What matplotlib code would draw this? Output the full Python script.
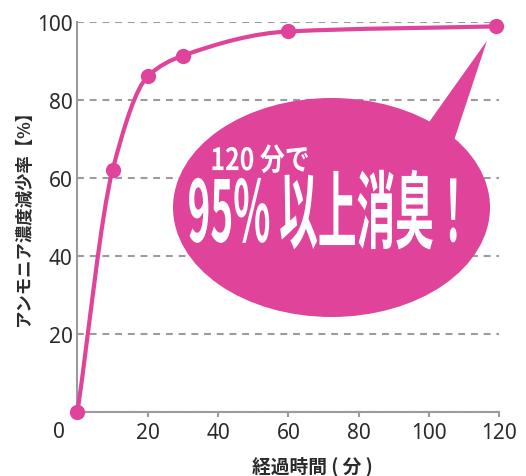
import numpy as np
import matplotlib
matplotlib.use("Agg")
import matplotlib.pyplot as plt
from matplotlib.path import Path
from matplotlib.patches import PathPatch, Ellipse, Polygon
from matplotlib import patheffects
from matplotlib.transforms import Affine2D

# ---- data ----
time_min = [0, 10, 20, 30, 60, 119]
reduction_pct = [0, 62, 86, 91.3, 97.5, 98.8]
x_ticks = [0, 20, 40, 60, 80, 100, 120]
y_ticks = [0, 20, 40, 60, 80, 100]
x_label = "経過時間 ( 分 )"
y_label = "アンモニア濃度減少率【%】"
bubble_small = "120 分で"
bubble_big = "95% 以上消臭！"

PINK = "#E0449A"
GRAY = "#9c9ca0"
TXT = "#2b2b2b"
CJK = ["Noto Sans CJK JP", "DejaVu Sans"]
NUM = ["Noto Sans", "DejaVu Sans"]

W, H = 526, 477
fig = plt.figure(figsize=(W / 100, H / 100), dpi=100)
ax = fig.add_axes([77.4 / W, 1 - 413.3 / H, (499.3 - 77.4) / W, (413.3 - 22.7) / H])
ax.set_xlim(0, 120)
ax.set_ylim(0, 100)

for s in ["top", "right"]:
    ax.spines[s].set_visible(False)
for s in ["left", "bottom"]:
    ax.spines[s].set_color(GRAY)
    ax.spines[s].set_linewidth(1.5)

ax.set_xticks(x_ticks)
ax.set_xticklabels(["" if t == 0 else str(t) for t in x_ticks])
ax.set_yticks(y_ticks)
ax.set_yticklabels(["" if t == 0 else str(t) for t in y_ticks])
ax.tick_params(axis="x", length=3.8, width=1.5, color=GRAY, pad=3.5,
               labelsize=15, labelcolor=TXT)
ax.tick_params(axis="y", length=0, pad=3.6, labelsize=15, labelcolor=TXT)
for lab in ax.get_xticklabels() + ax.get_yticklabels():
    lab.set_family(NUM)

ax.yaxis.grid(True, color=GRAY, linewidth=1.5, linestyle=(0, (3.3, 2.8)))
ax.set_axisbelow(True)

ax.annotate("0", xy=(0, 0), xycoords="data", xytext=(-18.5, -19.5),
            textcoords="offset pixels", ha="center", va="center",
            fontsize=15, color=TXT, family=NUM, annotation_clip=False)

# ---- smooth monotone curve through the points (Bezier path in data coords) ----
x = np.array(time_min, float)
y = np.array(reduction_pct, float)
h = np.diff(x)
d = np.diff(y) / h
m = np.zeros_like(x)
m[0] = d[0]
m[-1] = d[-1]
for i in range(1, len(x) - 1):
    if d[i - 1] * d[i] <= 0:
        m[i] = 0
    else:
        w1 = 2 * h[i] + h[i - 1]
        w2 = h[i] + 2 * h[i - 1]
        m[i] = (w1 + w2) / (w1 / d[i - 1] + w2 / d[i])
verts = [(x[0], y[0])]
codes = [Path.MOVETO]
for i in range(len(x) - 1):
    verts += [(x[i] + h[i] / 3, y[i] + m[i] * h[i] / 3),
              (x[i + 1] - h[i] / 3, y[i + 1] - m[i + 1] * h[i] / 3),
              (x[i + 1], y[i + 1])]
    codes += [Path.CURVE4] * 3
ax.add_patch(PathPatch(Path(verts, codes), facecolor="none", edgecolor=PINK,
                       linewidth=3.0, capstyle="round", joinstyle="round",
                       clip_on=False, zorder=3))
ax.plot(time_min, reduction_pct, linestyle="none", marker="o", markersize=11,
        color=PINK, markeredgewidth=0, clip_on=False, zorder=4)

# ---- speech bubble ----
def ax_px(px, py):
    return ((px - 77.4) / (499.3 - 77.4), (413.3 - py) / (413.3 - 22.7))

cx, cy = ax_px(331.5, 208.5)
ax.add_patch(Ellipse((cx, cy), 317 / 421.9, 219 / 390.6, transform=ax.transAxes,
                     facecolor=PINK, edgecolor="none", zorder=5, clip_on=False))
ax.add_patch(Polygon([ax_px(424.3, 129.7), ax_px(487.0, 41.7), ax_px(451.2, 149.9)],
                     closed=True, transform=ax.transAxes, facecolor=PINK,
                     edgecolor="none", zorder=5, clip_on=False))


class Stretch(patheffects.AbstractPathEffect):
    """Scale the glyph outlines of a text about its anchor point."""
    def __init__(self, artist, sx, sy):
        super().__init__()
        self.artist, self.sx, self.sy = artist, sx, sy

    def draw_path(self, renderer, gc, tpath, affine, rgbFace=None):
        px, py = self.artist.get_transform().transform(self.artist.get_position())
        aff = affine + Affine2D().translate(-px, -py).scale(self.sx, self.sy).translate(px, py)
        renderer.draw_path(gc, tpath, aff, rgbFace)


t1 = ax.text(*ax_px(260, 162), bubble_small, transform=ax.transAxes, ha="center",
             va="center", fontsize=17, fontweight="bold", color="white",
             family=CJK, zorder=6)
t1.set_path_effects([Stretch(t1, 1.05, 1.3)])

t2 = ax.text(*ax_px(330, 218.5), bubble_big, transform=ax.transAxes, ha="center",
             va="center", fontsize=29, fontweight="bold", color="white",
             family=CJK, zorder=6)
t2.set_path_effects([Stretch(t2, 0.96, 2.1)])

# ---- axis titles ----
fig.text(24 / W, 1 - 214 / H, y_label, rotation=90, ha="center", va="center",
         fontsize=12.5, fontweight="bold", color=TXT, family=CJK)
fig.text(312 / W, 1 - 466 / H, x_label, ha="center", va="center",
         fontsize=13.5, fontweight="bold", color=TXT, family=CJK)

fig.savefig("out.png", dpi=100)
